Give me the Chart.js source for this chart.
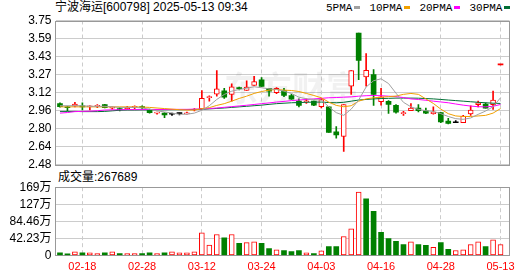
<!DOCTYPE html>
<html>
<head>
<meta charset="utf-8">
<script src="https://cdn.jsdelivr.net/npm/chart.js@4.4.1/dist/chart.umd.min.js"></script>
<style>
  body { margin: 0; width: 530px; height: 276px; background: #fff; position: relative; overflow: hidden;
         font-family: "Liberation Sans", "Noto Sans CJK SC", sans-serif; }
  .txt { position: absolute; font-size: 12px; line-height: 14px; color: #000; white-space: nowrap; }
  #legend { position: absolute; left: 326px; top: 1px; font: 11px "Liberation Mono", monospace; line-height: 14px; white-space: nowrap; }
  #legend .sw { display: inline-block; width: 6px; height: 3px; margin: 0 9px 2px 2px; vertical-align: middle; }
  canvas { position: absolute; left: 0; }
</style>
</head>
<body>
<div class="txt" id="title" style="left:55px;top:0px"></div>
<div id="legend"></div>
<div class="txt" id="volLabel" style="left:58px;top:170px"></div>
<canvas id="kline" width="530" height="176" style="top:0"></canvas>
<canvas id="vol" width="530" height="100" style="top:176px"></canvas>
<script>
// stock header
const stockName = '宁波海运';
const stockCode = '600798';
const stamp = '2025-05-13 09:34';
const lastVolume = 267689;

// trading days shown (60 sessions)
const dates = [
  '02-13','02-14','02-17','02-18','02-19','02-20','02-21','02-24','02-25','02-26',
  '02-27','02-28','03-03','03-04','03-05','03-06','03-07','03-10','03-11','03-12',
  '03-13','03-14','03-17','03-18','03-19','03-20','03-21','03-24','03-25','03-26',
  '03-27','03-28','03-31','04-01','04-02','04-03','04-07','04-08','04-09','04-10',
  '04-11','04-14','04-15','04-16','04-17','04-18','04-21','04-22','04-23','04-24',
  '04-25','04-28','04-29','04-30','05-06','05-07','05-08','05-09','05-12','05-13'
];
const tickDates = ['02-18','02-28','03-12','03-24','04-03','04-16','04-28','05-13'];

const opens = [
  3.018, 2.985, 2.997, 2.996, 2.99, 2.995, 3.009, 2.978, 2.97, 2.975,
  2.985, 2.99, 2.967, 2.935, 2.935, 2.925, 2.93, 2.928, 2.962, 2.974,
  3.07, 3.102, 3.132, 3.099, 3.155, 3.134, 3.178, 3.228, 3.152, 3.114,
  3.134, 3.09, 3.04, 3.035, 3.04, 2.991, 2.991, 2.77, 2.729, 3.172,
  3.639, 3.254, 3.274, 3.035, 3.038, 3.003, 2.93, 2.956, 2.979, 2.956,
  2.93, 2.939, 2.864, 2.85, 2.851, 2.927, 3.009, 3.014, 3.009, 3.36
];
const highs = [
  3.025, 2.997, 3.03, 3.026, 3.0, 3.009, 3.012, 2.99, 2.985, 2.995,
  3.0, 3.0, 2.97, 2.945, 2.94, 2.935, 2.935, 2.945, 2.975, 3.134,
  3.088, 3.309, 3.152, 3.193, 3.165, 3.22, 3.259, 3.248, 3.152, 3.16,
  3.152, 3.1, 3.06, 3.06, 3.04, 3.064, 2.991, 2.816, 3.011, 3.309,
  3.639, 3.458, 3.318, 3.152, 3.045, 3.01, 2.95, 3.018, 3.01, 2.98,
  2.99, 2.939, 2.89, 2.87, 2.915, 3.0, 3.04, 3.025, 3.128, 3.36
];
const lows = [
  2.988, 2.955, 2.99, 2.962, 2.962, 2.983, 2.98, 2.97, 2.955, 2.97,
  2.975, 2.97, 2.935, 2.925, 2.895, 2.915, 2.92, 2.925, 2.955, 2.97,
  3.04, 3.084, 3.064, 3.04, 3.14, 3.134, 3.178, 3.169, 3.084, 3.105,
  3.08, 3.055, 2.99, 3.02, 3.0, 2.98, 2.764, 2.714, 2.597, 3.099,
  3.23, 3.172, 3.003, 3.005, 2.932, 2.935, 2.915, 2.956, 2.945, 2.93,
  2.925, 2.85, 2.84, 2.85, 2.851, 2.915, 2.99, 2.979, 2.968, 3.36
];
const closes = [
  2.991, 2.982, 3.014, 2.99, 2.995, 3.0, 2.983, 2.985, 2.965, 2.985,
  2.99, 2.983, 2.939, 2.94, 2.92, 2.925, 2.93, 2.938, 2.97, 3.064,
  3.08, 3.149, 3.076, 3.167, 3.15, 3.163, 3.213, 3.169, 3.128, 3.152,
  3.09, 3.058, 3.003, 3.04, 3.005, 3.055, 2.764, 2.743, 3.011, 3.309,
  3.399, 3.312, 3.099, 3.079, 3.011, 2.944, 2.935, 2.979, 2.956, 2.935,
  2.945, 2.857, 2.845, 2.85, 2.909, 2.962, 3.026, 2.979, 3.049, 3.36
];
// volume in 万
const volumes = [
  6.6, 4.2, 9, 6.6, 6.6, 5, 6.6, 9, 5, 5,
  5, 5, 6.6, 5, 6.6, 9, 6.6, 6.6, 9, 56,
  26, 52, 44, 52, 30, 32, 34, 30, 17, 14,
  12.4, 10, 12.4, 6.6, 5, 11.5, 22, 22, 47, 66,
  157, 140, 109, 57, 42, 35, 27, 34, 27, 25,
  20, 32, 15, 12.4, 14, 27, 34, 22, 39, 26.77
];

// moving averages as drawn
const ma5 = [
  3.0, 3.0, 3.0, 3.0, 2.995, 2.995, 2.995, 2.99, 2.985, 2.985,
  2.985, 2.98, 2.97, 2.955, 2.945, 2.935, 2.925, 2.925, 2.935, 2.96,
  3.0, 3.055, 3.099, 3.128, 3.143, 3.154, 3.167, 3.158, 3.149, 3.143,
  3.128, 3.108, 3.075, 3.061, 3.055, 3.05, 2.991, 2.939, 2.915, 2.97,
  3.05, 3.165, 3.22, 3.237, 3.195, 3.11, 3.03, 2.99, 2.968, 2.956,
  2.95, 2.93, 2.905, 2.886, 2.88, 2.892, 2.924, 2.953, 2.991, 3.07
];
const ma10 = [
  2.99, 2.99, 2.99, 2.99, 2.99, 2.99, 2.99, 2.99, 2.99, 2.99,
  2.99, 2.988, 2.985, 2.98, 2.975, 2.97, 2.965, 2.962, 2.962, 2.974,
  2.983, 3.003, 3.018, 3.04, 3.064, 3.084, 3.108, 3.125, 3.137, 3.143,
  3.137, 3.134, 3.125, 3.108, 3.09, 3.07, 3.032, 3.003, 2.991, 3.0,
  3.04, 3.06, 3.07, 3.075, 3.08, 3.085, 3.1, 3.108, 3.1, 3.06,
  3.02, 2.97, 2.93, 2.91, 2.905, 2.905, 2.91, 2.915, 2.935, 2.975
];
const ma20 = [
  2.935, 2.94, 2.948, 2.95, 2.952, 2.956, 2.962, 2.964, 2.965, 2.966,
  2.966, 2.966, 2.967, 2.967, 2.967, 2.968, 2.968, 2.968, 2.97, 2.972,
  2.975, 2.98, 2.986, 2.992, 2.998, 3.004, 3.011, 3.018, 3.025, 3.032,
  3.038, 3.045, 3.05, 3.055, 3.06, 3.065, 3.07, 3.072, 3.075, 3.078,
  3.084, 3.088, 3.09, 3.088, 3.084, 3.08, 3.072, 3.06, 3.055, 3.048,
  3.04, 3.033, 3.026, 3.015, 3.005, 2.997, 2.991, 2.99, 2.995, 3.011
];
const ma30 = [
  2.95, 2.95, 2.95, 2.948, 2.948, 2.948, 2.95, 2.955, 2.96, 2.962,
  2.962, 2.963, 2.963, 2.964, 2.964, 2.965, 2.965, 2.966, 2.967, 2.968,
  2.972, 2.976, 2.98, 2.985, 2.99, 2.995, 3.0, 3.005, 3.012, 3.018,
  3.022, 3.026, 3.028, 3.03, 3.032, 3.032, 3.028, 3.026, 3.03, 3.04,
  3.05, 3.055, 3.06, 3.063, 3.065, 3.067, 3.067, 3.067, 3.066, 3.063,
  3.06, 3.055, 3.05, 3.045, 3.04, 3.035, 3.03, 3.026, 3.022, 3.02
];
const maNames = ['5PMA', '10PMA', '20PMA', '30PMA'];
const maColors = ['#a0a0a0', '#f0a000', '#ff00ff', '#006f35'];

const priceMin = 2.48, priceMax = 3.75;
const priceTickLabels = ['2.48', '2.64', '2.80', '2.96', '3.12', '3.27', '3.43', '3.59', '3.75'];
const volTicks = [0, 42.23, 84.46, 126.69, 168.92];
const volTickLabels = ['0', '42.23万', '84.46万', '127万', '169万'];

const RED = '#ff0000', GREEN = '#008000', BLACK = '#000000';

document.getElementById('title').textContent = `${stockName}[${stockCode}] ${stamp}`;
document.getElementById('volLabel').textContent = '成交量:' + lastVolume;
document.getElementById('legend').innerHTML = maNames
  .map((n, k) => `${n}<span class="sw" style="background:${maColors[k]}"></span>`).join('');

function candleColor(i) {
  const o = opens[i], c = closes[i];
  if (c > o) return RED;
  if (c < o) return GREEN;
  // one-price bar (limit move) follows the day's change
  if (highs[i] === lows[i] && i > 0) {
    if (c > closes[i - 1]) return RED;
    if (c < closes[i - 1]) return GREEN;
  }
  return BLACK;
}
function volUp(i) {
  return i > 0 ? closes[i] >= closes[i - 1] : closes[i] >= opens[i];
}

const idx = closes.map((_, i) => i);
const font = { family: '"Liberation Sans", "Noto Sans CJK SC", sans-serif', size: 12 };

function xScale(showLabels) {
  return {
    type: 'linear',
    min: -0.6,
    max: 60.2,
    offset: false,
    afterBuildTicks: s => { s.ticks = tickDates.map(d => ({ value: dates.indexOf(d) })); },
    ticks: {
      display: showLabels,
      callback: v => dates[v],
      color: RED,
      font: { family: '"Liberation Sans", sans-serif', size: 11 },
      padding: 5,
      maxRotation: 0,
      autoSkip: false
    },
    grid: { color: '#cccccc', drawTicks: false, offset: false },
    border: { display: false, dash: [4, 3] },
    afterFit: s => { s.height = showLabels ? 20.5 : 0; }
  };
}

const frame = {
  id: 'frame',
  beforeDatasetsDraw(chart) {
    const { ctx, chartArea: a } = chart;
    ctx.save();
    if (chart.canvas.id === 'kline') {
      ctx.fillStyle = 'rgba(0,0,0,0.055)';
      ctx.font = 'bold 34px "Noto Sans CJK SC"';
      ctx.textAlign = 'center';
      ctx.textBaseline = 'middle';
      ctx.fillText('东方财富', 292, 88);
    }
    ctx.strokeStyle = '#999999';
    ctx.lineWidth = 1;
    ctx.strokeRect(Math.round(a.left) - 0.5, Math.round(a.top) + 0.5,
      Math.round(a.right - a.left), Math.round(a.bottom - a.top));
    ctx.restore();
  }
};

const common = {
  responsive: false,
  animation: false,
  events: [],
  plugins: { legend: { display: false }, tooltip: { enabled: false } }
};

new Chart(document.getElementById('kline'), {
  type: 'bar',
  data: {
    datasets: [
      ...[ma5, ma10, ma20, ma30].map((vals, k) => ({
        type: 'line',
        data: vals.map((v, i) => ({ x: i, y: v })),
        borderColor: maColors[k],
        borderWidth: 1,
        pointRadius: 0,
        order: 0
      })),
      {
        data: idx.map(i => ({ x: i, y: [Math.min(opens[i], closes[i]), Math.max(opens[i], closes[i])] })),
        barThickness: 5,
        grouped: false,
        minBarLength: 1,
        borderSkipped: false,
        backgroundColor: c => closes[c.dataIndex] > opens[c.dataIndex] ? '#ffffff' : candleColor(c.dataIndex),
        borderColor: c => candleColor(c.dataIndex),
        borderWidth: c => closes[c.dataIndex] > opens[c.dataIndex] ? 1 : 0,
        order: 1
      },
      {
        data: idx.map(i => ({ x: i, y: [lows[i], highs[i]] })),
        barThickness: 1,
        grouped: false,
        backgroundColor: c => candleColor(c.dataIndex),
        order: 2
      }
    ]
  },
  options: {
    ...common,
    layout: { padding: { top: 20.5, right: 20.5, bottom: 10.5, left: 0 } },
    scales: {
      x: xScale(false),
      y: {
        min: priceMin,
        max: priceMax,
        afterBuildTicks: s => {
          s.ticks = priceTickLabels.map((_, k) => ({ value: priceMin + k * (priceMax - priceMin) / 8 }));
        },
        ticks: { callback: (v, i) => priceTickLabels[i], color: '#000', font, padding: 4, autoSkip: false },
        grid: { color: '#cccccc', drawTicks: false },
        border: { display: false },
        afterFit: s => { s.width = 55.5; }
      }
    }
  },
  plugins: [frame]
});

new Chart(document.getElementById('vol'), {
  type: 'bar',
  data: {
    datasets: [{
      data: idx.map(i => ({ x: i, y: volumes[i] })),
      barThickness: 5,
      minBarLength: 1,
      borderSkipped: false,
      backgroundColor: c => volUp(c.dataIndex) ? '#ffffff' : GREEN,
      borderColor: c => volUp(c.dataIndex) ? RED : GREEN,
      borderWidth: c => volUp(c.dataIndex) ? 1 : 0
    }]
  },
  options: {
    ...common,
    layout: { padding: { top: 10, right: 20.5, bottom: 0, left: 0 } },
    scales: {
      x: xScale(true),
      y: {
        min: 0,
        max: volTicks[volTicks.length - 1],
        afterBuildTicks: s => { s.ticks = volTicks.map(v => ({ value: v })); },
        ticks: { callback: (v, i) => volTickLabels[i], color: '#000', font, padding: 4, autoSkip: false },
        grid: { color: '#cccccc', drawTicks: false },
        border: { display: false },
        afterFit: s => { s.width = 55.5; }
      }
    }
  },
  plugins: [frame]
});
</script>
</body>
</html>
